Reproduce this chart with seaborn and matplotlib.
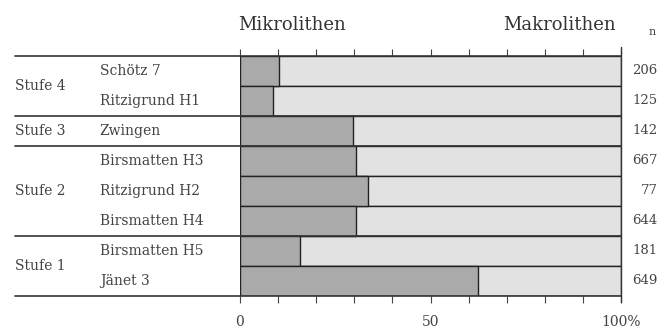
import matplotlib.pyplot as plt
import seaborn as sns
import pandas as pd

# data (percentage of microliths)
stufen = ["Stufe 4", "Stufe 3", "Stufe 2", "Stufe 1"]
stufe_sizes = [2, 1, 3, 2]
sites = ["Schötz 7", "Ritzigrund H1", "Zwingen", "Birsmatten H3",
         "Ritzigrund H2", "Birsmatten H4", "Birsmatten H5", "Jänet 3"]
mikro = [10.2, 8.7, 29.7, 30.4, 33.6, 30.4, 15.7, 62.5]
n_vals = [206, 125, 142, 667, 77, 644, 181, 649]

df = pd.DataFrame({"site": sites, "mikro": mikro, "total": [100] * len(sites)})

sns.set_style("white")
plt.rcParams["font.family"] = ["DejaVu Serif"]

fig = plt.figure(figsize=(6.59, 3.32), dpi=100)
ax = fig.add_axes([240 / 659, 36 / 332, 381 / 659, 240 / 332])

sns.barplot(data=df, x="total", y="site", color="#e2e2e2", width=1.0,
            edgecolor="#222222", linewidth=1.0, saturation=1, ax=ax)
sns.barplot(data=df, x="mikro", y="site", color="#aaaaaa", width=1.0,
            edgecolor="#222222", linewidth=1.0, saturation=1, ax=ax)

ax.set_xlim(0, 100)
ax.set_ylim(len(sites) - 0.5, -0.5)
ax.set_xlabel("")
ax.set_ylabel("")
ax.set_yticks([])
ax.set_xticks(range(0, 101, 10))
ax.set_xticklabels(["0", "", "", "", "", "50", "", "", "", "", "100%"])
ax.tick_params(axis="x", direction="out", length=5, width=0.8, color="#444444",
               labelsize=10, labelcolor="#444444", pad=9, bottom=True, top=True)
for s in ax.spines.values():
    s.set_visible(False)

# site names and n values
for i, name in enumerate(sites):
    ax.text(-36.8, i, name, ha="left", va="center", fontsize=10, color="#444444",
            clip_on=False)
    ax.text(109.6, i, str(n_vals[i]), ha="right", va="center", fontsize=9.5,
            color="#444444", clip_on=False)

# group labels and separator lines
start = 0
ax.plot([-59, 100], [-0.5, -0.5], color="#333333", lw=1.2, clip_on=False)
for st, size in zip(stufen, stufe_sizes):
    mid = start + (size - 1) / 2
    ax.text(-59, mid, st, ha="left", va="center", fontsize=10, color="#444444",
            clip_on=False)
    start += size
    ax.plot([-59, 100], [start - 0.5, start - 0.5], color="#333333", lw=1.2,
            clip_on=False)

# right border of n column
ax.plot([100, 100], [-0.8, len(sites) - 0.3], color="#333333", lw=1.0, clip_on=False)

# headers
ax.text(-0.5, -1.55, "Mikrolithen", ha="left", va="center", fontsize=13,
        color="#333333", clip_on=False)
ax.text(98.5, -1.55, "Makrolithen", ha="right", va="center", fontsize=13,
        color="#333333", clip_on=False)
ax.text(108.3, -1.3, "n", ha="center", va="center", fontsize=8, color="#444444",
        clip_on=False)

fig.savefig("out.png", dpi=100)
